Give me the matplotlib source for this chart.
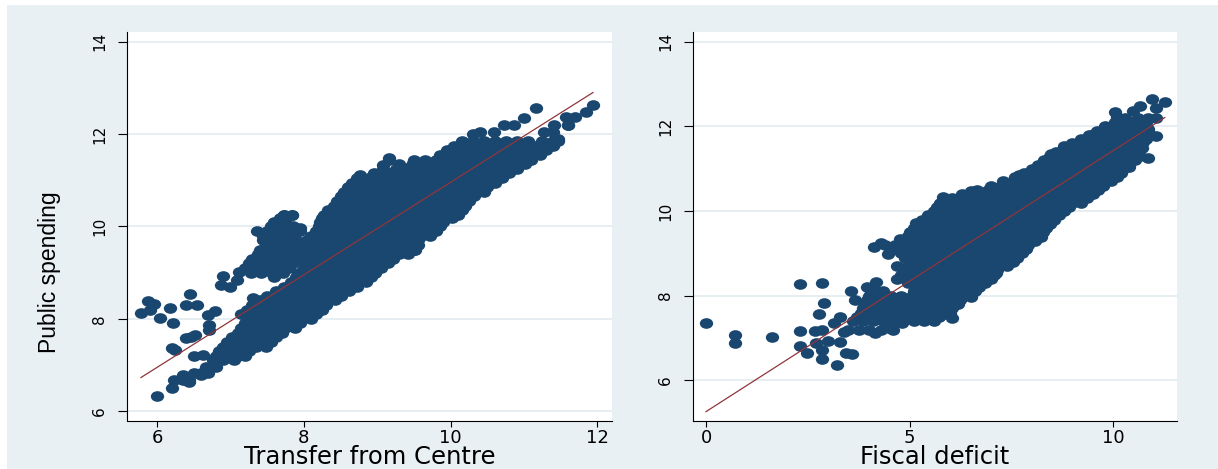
import numpy as np
import matplotlib
matplotlib.use("Agg")
import matplotlib.pyplot as plt
from matplotlib.path import Path
from matplotlib.patches import Rectangle
from matplotlib import font_manager

# ---- data ----
# left panel: dense part of the cloud, one row per spending level (y, [transfer values])
left_rows = [
    (6.50, [6.21]),
    (6.68, [6.23, 6.36, 6.44]),
    (6.82, [6.50, 6.60, 6.70]),
    (6.95, [6.66, 6.80]),
    (7.10, [6.76, 6.90, 7.05]),
    (7.20, [6.80, 6.95, 7.10, 7.20]),
    (7.30, [6.85, 7.00, 7.15, 7.25]),
    (7.40, [6.90, 7.05, 7.20, 7.35, 7.48]),
    (7.50, [6.95, 7.10, 7.25, 7.40, 7.55]),
    (7.60, [7.02, 7.17, 7.32, 7.47, 7.62]),
    (7.70, [7.10, 7.25, 7.40, 7.55, 7.70]),
    (7.80, [7.15, 7.30, 7.45, 7.60, 7.75, 7.88]),
    (7.90, [7.20, 7.35, 7.50, 7.65, 7.80, 7.95]),
    (8.00, [7.22, 7.37, 7.52, 7.67, 7.82, 7.97, 8.10]),
    (8.10, [7.14, 7.30, 7.45, 7.60, 7.75, 7.90, 8.05, 8.16]),
    (8.20, [7.22, 7.37, 7.52, 7.67, 7.82, 7.97, 8.12, 8.25]),
    (8.30, [7.30, 7.45, 7.60, 7.75, 7.90, 8.05, 8.20, 8.30]),
    (8.40, [7.40, 7.55, 7.70, 7.85, 8.00, 8.15, 8.30, 8.42]),
    (8.50, [7.50, 7.65, 7.80, 7.95, 8.10, 8.25, 8.40, 8.50]),
    (8.60, [7.62, 7.77, 7.92, 8.07, 8.22, 8.37, 8.52, 8.62]),
    (8.70, [7.73, 7.88, 8.00, 8.15, 8.30, 8.45, 8.60, 8.72]),
    (8.80, [7.82, 7.97, 8.12, 8.27, 8.42, 8.57, 8.72, 8.85]),
    (8.90, [7.60, 7.90, 8.05, 8.20, 8.35, 8.50, 8.65, 8.80, 8.92]),
    (9.00, [7.28, 7.42, 7.57, 7.72, 7.92, 8.07, 8.22, 8.37, 8.52, 8.67, 8.82, 8.97]),
    (9.10, [7.20, 7.35, 7.50, 7.65, 7.80, 8.00, 8.15, 8.30, 8.45, 8.60, 8.75, 8.90, 9.05]),
    (9.20, [7.25, 7.40, 7.55, 7.70, 7.85, 8.02, 8.17, 8.32, 8.47, 8.62, 8.77, 8.92, 9.07, 9.15]),
    (9.30, [7.30, 7.45, 7.60, 7.75, 7.90, 8.05, 8.20, 8.35, 8.50, 8.65, 8.80, 8.95, 9.10, 9.22]),
    (9.40, [7.37, 7.52, 7.67, 7.82, 7.97, 8.12, 8.27, 8.42, 8.57, 8.72, 8.87, 9.02, 9.17, 9.30, 9.42]),
    (9.50, [7.40, 7.55, 7.70, 7.84, 8.00, 8.15, 8.30, 8.45, 8.60, 8.75, 8.90, 9.05, 9.20, 9.35, 9.50]),
    (9.60, [7.48, 7.62, 7.77, 7.92, 8.07, 8.22, 8.37, 8.52, 8.67, 8.82, 8.97, 9.12, 9.27, 9.42, 9.55]),
    (9.70, [7.44, 7.60, 7.75, 7.90, 8.05, 8.20, 8.35, 8.50, 8.65, 8.80, 8.95, 9.10, 9.25, 9.40, 9.55]),
    (9.80, [7.45, 7.57, 7.72, 7.87, 8.10, 8.25, 8.40, 8.55, 8.70, 8.85, 9.00, 9.15, 9.30, 9.45, 9.60, 9.72]),
    (9.90, [7.36, 7.50, 7.65, 7.80, 7.95, 8.16, 8.30, 8.45, 8.60, 8.75, 8.90, 9.05, 9.20, 9.35, 9.50, 9.65, 9.80]),
    (10.00, [7.55, 7.70, 7.85, 8.20, 8.35, 8.50, 8.65, 8.80, 8.95, 9.10, 9.25, 9.40, 9.55, 9.70, 9.85]),
    (10.10, [7.60, 7.75, 8.22, 8.35, 8.50, 8.65, 8.80, 8.95, 9.10, 9.25, 9.40, 9.57, 9.73, 9.90]),
    (10.18, [7.68, 8.25, 8.40, 8.55, 8.70, 8.85, 9.00, 9.15, 9.30, 9.45, 9.60, 9.75, 9.90, 10.02]),
    (10.25, [7.73, 7.84, 8.27, 8.40, 8.55, 8.70, 8.85, 9.00, 9.15, 9.30, 9.45, 9.60, 9.78, 9.95, 10.10]),
    (10.35, [8.33, 8.48, 8.63, 8.78, 8.93, 9.08, 9.23, 9.38, 9.53, 9.68, 9.85, 10.02, 10.15]),
    (10.45, [8.41, 8.55, 8.70, 8.85, 9.00, 9.15, 9.30, 9.45, 9.60, 9.75, 9.90, 10.05, 10.20]),
    (10.55, [8.45, 8.60, 8.75, 8.90, 9.05, 9.20, 9.35, 9.50, 9.65, 9.80, 9.95, 10.10, 10.25]),
    (10.65, [8.50, 8.65, 8.80, 8.95, 9.10, 9.25, 9.40, 9.55, 9.70, 9.85, 10.00, 10.15, 10.32]),
    (10.75, [8.55, 8.70, 8.85, 9.00, 9.15, 9.30, 9.45, 9.60, 9.75, 9.90, 10.05, 10.20, 10.35, 10.45]),
    (10.85, [8.60, 8.75, 8.90, 9.05, 9.20, 9.35, 9.50, 9.65, 9.80, 9.95, 10.10, 10.25, 10.40, 10.50]),
    (10.95, [8.66, 8.82, 8.97, 9.12, 9.27, 9.42, 9.57, 9.72, 9.87, 10.02, 10.17, 10.32, 10.47, 10.60]),
    (11.05, [8.72, 8.90, 9.05, 9.20, 9.35, 9.50, 9.65, 9.80, 9.95, 10.10, 10.25, 10.40, 10.55, 10.70]),
    (11.15, [8.95, 9.15, 9.32, 9.47, 9.62, 9.77, 9.92, 10.07, 10.22, 10.37, 10.52, 10.67, 10.80]),
    (11.25, [9.08, 9.25, 9.40, 9.55, 9.70, 9.85, 10.00, 10.15, 10.30, 10.45, 10.60, 10.75, 10.90]),
    (11.35, [9.30, 9.57, 9.72, 9.87, 10.02, 10.17, 10.32, 10.47, 10.62, 10.77, 10.92, 11.02]),
    (11.45, [9.16, 9.50, 9.65, 9.80, 9.95, 10.10, 10.25, 10.40, 10.55, 10.70, 10.85, 11.00, 11.10]),
    (11.55, [9.85, 10.02, 10.17, 10.32, 10.47, 10.62, 10.77, 10.95, 11.12, 11.22]),
    (11.65, [9.95, 10.10, 10.25, 10.40, 10.55, 10.70, 10.85, 11.05, 11.20, 11.30]),
    (11.75, [10.05, 10.22, 10.37, 10.52, 10.67, 10.82, 10.97, 11.15, 11.32, 11.40]),
    (11.85, [10.16, 10.30, 10.45, 10.60, 10.75, 10.90, 11.05, 11.25, 11.40, 11.46]),
    (12.05, [10.40, 10.59, 11.27, 11.40]),
    (12.20, [10.73, 10.86, 11.41, 11.60]),
]
# left panel: scattered points around the edges (transfer, spending)
left_pts = [
    (5.78, 8.12), (5.88, 8.39), (5.96, 8.32), (5.90, 8.19), (6.04, 8.01),
    (6.18, 8.23), (6.22, 7.92), (6.45, 8.54), (6.39, 8.30), (6.55, 8.30),
    (6.20, 7.37), (6.25, 7.33), (6.39, 7.58), (6.46, 7.60), (6.52, 7.65),
    (6.50, 7.20), (6.63, 7.22), (6.69, 8.09), (6.79, 8.16), (6.71, 7.87),
    (6.71, 7.76), (6.87, 8.74), (6.90, 8.92), (7.00, 8.70), (7.09, 8.84),
    (7.11, 9.02), (7.28, 9.20), (7.57, 10.00), (7.62, 9.85), (7.73, 10.25),
    (7.84, 10.25), (7.95, 9.96), (7.31, 8.45), (6.00, 6.34), (6.44, 6.64),
    (6.60, 6.79), (6.36, 6.79), (11.16, 12.56), (11.00, 12.35), (11.94, 12.63),
    (11.84, 12.48), (11.70, 12.37), (11.57, 12.37), (11.60, 12.19), (9.16, 11.48),
    (9.08, 11.33), (8.76, 11.11), (8.92, 11.08), (9.49, 11.37), (9.38, 11.26),
    (9.52, 9.49), (9.38, 9.46), (10.30, 12.00), (11.35, 11.78), (11.46, 11.89),
]
left_fit_x = [5.78, 11.94]
left_fit_y = [6.73, 12.90]

# right panel: dense rows (y, [fiscal deficit values])
right_rows = [
    (7.20, [3.50, 3.75, 4.00, 4.30, 4.60]),
    (7.40, [3.60, 3.85, 4.10, 4.35, 4.60, 4.85, 5.10, 5.35, 5.60]),
    (7.50, [3.72, 3.97, 4.22, 4.47, 4.72, 4.97, 5.22, 5.47, 5.72]),
    (7.60, [3.80, 4.05, 4.30, 4.55, 4.80, 5.05, 5.30, 5.55, 5.80, 6.00]),
    (7.70, [3.85, 4.10, 4.35, 4.60, 4.85, 5.10, 5.35, 5.60, 5.85, 6.05]),
    (7.80, [3.90, 4.15, 4.40, 4.65, 4.90, 5.15, 5.40, 5.65, 5.90, 6.20]),
    (7.90, [3.95, 4.22, 4.47, 4.72, 4.97, 5.22, 5.47, 5.72, 5.97, 6.25]),
    (8.00, [4.00, 4.30, 4.55, 4.80, 5.05, 5.30, 5.55, 5.80, 6.05, 6.30, 6.50]),
    (8.10, [4.05, 4.35, 5.12, 5.37, 5.62, 5.87, 6.12, 6.37, 6.60]),
    (8.20, [4.10, 5.20, 5.45, 5.70, 5.95, 6.20, 6.45, 6.70]),
    (8.30, [4.95, 5.12, 5.37, 5.62, 5.87, 6.12, 6.37, 6.62, 6.85]),
    (8.40, [4.70, 5.00, 5.25, 5.50, 5.75, 6.00, 6.25, 6.50, 6.75, 7.00]),
    (8.50, [4.80, 5.07, 5.32, 5.57, 5.82, 6.07, 6.32, 6.57, 6.82, 7.07]),
    (8.60, [4.90, 5.15, 5.40, 5.65, 5.90, 6.15, 6.40, 6.65, 6.90, 7.15]),
    (8.70, [4.95, 5.22, 5.47, 5.72, 5.97, 6.22, 6.47, 6.72, 6.97, 7.22, 7.40]),
    (8.80, [5.00, 5.30, 5.55, 5.80, 6.05, 6.30, 6.55, 6.80, 7.05, 7.30, 7.55]),
    (8.90, [4.90, 5.17, 5.42, 5.67, 5.92, 6.17, 6.42, 6.67, 6.92, 7.17, 7.42, 7.65]),
    (9.00, [4.80, 5.05, 5.30, 5.55, 5.80, 6.05, 6.30, 6.55, 6.80, 7.05, 7.30, 7.55, 7.75]),
    (9.10, [4.60, 4.92, 5.17, 5.42, 5.67, 5.92, 6.17, 6.42, 6.67, 6.92, 7.17, 7.42, 7.67, 7.85]),
    (9.20, [4.40, 4.65, 4.90, 5.15, 5.40, 5.65, 5.90, 6.15, 6.40, 6.65, 6.90, 7.15, 7.40, 7.65, 7.90]),
    (9.30, [4.80, 5.07, 5.32, 5.57, 5.82, 6.07, 6.32, 6.57, 6.82, 7.07, 7.32, 7.57, 7.82, 8.07]),
    (9.40, [4.95, 5.20, 5.45, 5.70, 5.95, 6.20, 6.45, 6.70, 6.95, 7.20, 7.45, 7.70, 7.95, 8.20]),
    (9.50, [5.02, 5.27, 5.52, 5.77, 6.02, 6.27, 6.52, 6.77, 7.02, 7.27, 7.52, 7.77, 8.02, 8.27]),
    (9.60, [5.10, 5.35, 5.60, 5.85, 6.10, 6.35, 6.60, 6.85, 7.10, 7.35, 7.60, 7.85, 8.10, 8.35]),
    (9.70, [5.20, 5.45, 5.70, 5.95, 6.20, 6.45, 6.70, 6.95, 7.20, 7.45, 7.70, 7.95, 8.20, 8.45]),
    (9.80, [5.30, 5.55, 5.80, 6.05, 6.30, 6.55, 6.80, 7.05, 7.30, 7.55, 7.80, 8.05, 8.30, 8.55]),
    (9.90, [5.45, 5.70, 5.95, 6.20, 6.45, 6.70, 6.95, 7.20, 7.45, 7.70, 7.95, 8.20, 8.45, 8.68]),
    (10.00, [5.60, 5.85, 6.10, 6.35, 6.60, 6.85, 7.10, 7.35, 7.60, 7.85, 8.10, 8.35, 8.60, 8.80]),
    (10.10, [5.68, 5.92, 6.17, 6.42, 6.67, 6.92, 7.17, 7.42, 7.67, 7.92, 8.17, 8.42, 8.67, 8.92]),
    (10.20, [5.75, 6.00, 6.25, 6.50, 6.75, 7.00, 7.25, 7.50, 7.75, 8.00, 8.25, 8.50, 8.75, 9.00, 9.20]),
    (10.30, [6.05, 6.37, 6.62, 6.87, 7.12, 7.37, 7.62, 7.87, 8.12, 8.37, 8.62, 8.87, 9.12, 9.35]),
    (10.40, [6.30, 6.55, 6.80, 7.05, 7.30, 7.55, 7.80, 8.05, 8.30, 8.55, 8.80, 9.05, 9.30, 9.50]),
    (10.50, [6.65, 6.92, 7.17, 7.42, 7.67, 7.92, 8.17, 8.42, 8.67, 8.92, 9.17, 9.42, 9.62]),
    (10.60, [7.00, 7.25, 7.50, 7.75, 8.00, 8.25, 8.50, 8.75, 9.00, 9.25, 9.50, 9.75]),
    (10.70, [7.30, 7.55, 7.80, 8.05, 8.30, 8.55, 8.80, 9.05, 9.30, 9.55, 9.80, 9.95]),
    (10.80, [7.60, 7.85, 8.10, 8.35, 8.60, 8.85, 9.10, 9.35, 9.60, 9.85, 10.10]),
    (10.90, [7.80, 8.05, 8.30, 8.55, 8.80, 9.05, 9.30, 9.55, 9.80, 10.05, 10.20]),
    (11.00, [8.00, 8.25, 8.50, 8.75, 9.00, 9.25, 9.50, 9.75, 10.00, 10.25]),
    (11.10, [8.15, 8.40, 8.65, 8.90, 9.15, 9.40, 9.65, 9.90, 10.15, 10.40]),
    (11.20, [8.30, 8.55, 8.80, 9.05, 9.30, 9.55, 9.80, 10.05, 10.30, 10.55]),
    (11.30, [8.45, 8.70, 8.95, 9.20, 9.45, 9.70, 9.95, 10.20, 10.45, 10.65]),
    (11.40, [8.60, 8.85, 9.10, 9.35, 9.60, 9.85, 10.10, 10.35, 10.60]),
    (11.50, [8.80, 9.05, 9.30, 9.55, 9.80, 10.05, 10.30, 10.55, 10.70]),
    (11.60, [9.00, 9.25, 9.50, 9.75, 10.00, 10.25, 10.50, 10.70]),
    (11.70, [9.20, 9.45, 9.70, 9.95, 10.20, 10.45, 10.65, 10.80]),
    (11.80, [9.40, 9.65, 9.90, 10.15, 10.40, 10.65, 10.85]),
    (11.90, [9.60, 9.85, 10.10, 10.35, 10.60, 10.85]),
    (12.00, [9.80, 10.05, 10.30, 10.55, 10.80]),
    (12.10, [10.05, 10.30, 10.55, 10.80]),
    (12.20, [10.30, 10.60, 10.85]),
]
right_pts = [
    (0.00, 7.36), (0.70, 7.07), (0.70, 6.87), (1.61, 7.03), (2.30, 8.27),
    (2.84, 8.31), (2.90, 7.82), (2.78, 7.57), (2.30, 7.17), (2.30, 6.82),
    (2.49, 6.64), (2.84, 6.50), (3.22, 6.35), (3.43, 6.64), (3.29, 6.90),
    (3.00, 6.94), (2.71, 6.87), (2.84, 6.72), (2.68, 7.17), (2.86, 7.19),
    (3.14, 7.35), (3.38, 7.15), (3.58, 6.61), (3.29, 7.50), (3.56, 8.11),
    (3.67, 7.90), (3.96, 8.21), (4.18, 8.33), (4.15, 7.11), (4.12, 9.14),
    (4.31, 9.24), (4.48, 8.98), (4.57, 9.14), (4.77, 9.33), (4.97, 9.33),
    (4.92, 9.12), (4.68, 8.69), (5.16, 9.72), (5.81, 10.34), (6.50, 10.48),
    (6.91, 10.43), (7.70, 10.85), (8.47, 11.34), (8.80, 11.54), (9.52, 11.82),
    (10.05, 12.35), (10.10, 12.23), (10.48, 12.36), (10.67, 12.48), (10.96, 12.65),
    (11.27, 12.57), (11.05, 12.43), (11.05, 12.19), (10.86, 11.95), (11.05, 11.77),
    (10.74, 11.64), (10.86, 11.26), (10.38, 11.05), (10.19, 10.97), (9.76, 10.71),
    (9.28, 10.38), (8.80, 10.14), (8.27, 9.71), (8.22, 9.39), (7.79, 9.08),
    (7.56, 8.92), (7.12, 8.54), (6.79, 8.43), (6.50, 7.98), (6.04, 7.48),
    (5.78, 7.54), (5.49, 7.46), (5.21, 7.50), (4.82, 7.35), (4.49, 7.23),
]
right_fit_x = [0.0, 11.27]
right_fit_y = [5.26, 12.21]


def unpack(rows, pts):
    xs, ys = [], []
    for yv, row in rows:
        xs += row
        ys += [yv] * len(row)
    for a, b in pts:
        xs.append(a)
        ys.append(b)
    return xs, ys


navy = "#1a476f"
maroon = "#90353b"
bg = "#e8f0f3"
gridc = "#e4edf0"

# narrow font for the y title if it is there
names = {f.name for f in font_manager.fontManager.ttflist}
if "Liberation Sans Narrow" in names:
    ytitle_font, ytitle_size = "Liberation Sans Narrow", 19
else:
    ytitle_font, ytitle_size = "Liberation Sans", 16.5

# markers in the picture are slightly wider than tall
circ = Path.unit_circle()
ellipse = Path(circ.vertices * np.array([1.0, 0.8]), circ.codes)

fig = plt.figure(figsize=(12.18, 4.69), dpi=100, facecolor="white")
fig.patches.append(Rectangle((7 / 1218, 0), 1 - 7 / 1218, 464 / 469,
                             transform=fig.transFigure, facecolor=bg,
                             edgecolor="none", zorder=-10))

ax1 = fig.add_axes([127 / 1218, 48.5 / 469, 485 / 1218, 388 / 469])
ax2 = fig.add_axes([693 / 1218, 48.5 / 469, 484 / 1218, 388 / 469])

lx, ly = unpack(left_rows, left_pts)
rx, ry = unpack(right_rows, right_pts)

ax1.scatter(lx, ly, s=92, marker=ellipse, color=navy, linewidths=0, zorder=2)
ax1.plot(left_fit_x, left_fit_y, color=maroon, lw=0.9, zorder=3)
ax2.scatter(rx, ry, s=92, marker=ellipse, color=navy, linewidths=0, zorder=2)
ax2.plot(right_fit_x, right_fit_y, color=maroon, lw=0.9, zorder=3)

ax1.set_xlim(5.59, 12.2)
ax1.set_ylim(5.8, 14.2)
ax1.set_xticks([6, 8, 10, 12])
ax2.set_xlim(-0.32, 11.57)
ax2.set_ylim(5.05, 14.22)
ax2.set_xticks([0, 5, 10])

for ax in (ax1, ax2):
    ax.set_facecolor("white")
    ax.set_yticks([6, 8, 10, 12, 14])
    ax.grid(axis="y", color=gridc, lw=1.3, zorder=0)
    ax.set_axisbelow(True)
    for s in ("top", "right"):
        ax.spines[s].set_visible(False)
    for s in ("left", "bottom"):
        ax.spines[s].set_color("black")
        ax.spines[s].set_linewidth(0.8)
    ax.tick_params(axis="y", length=6.5, width=0.8, pad=8, labelsize=11,
                   labelrotation=90)
    ax.tick_params(axis="x", length=4, width=0.8, pad=2, labelsize=13)
    for lab in ax.get_yticklabels():
        lab.set_verticalalignment("center")

ax1.set_xlabel("Transfer from Centre", fontsize=17.5, labelpad=-1)
ax2.set_xlabel("Fiscal deficit", fontsize=17.5, labelpad=-1)
fig.text(50 / 1218, 1 - 272 / 469, "Public spending", rotation=90,
         ha="center", va="center", fontsize=ytitle_size, family=ytitle_font)

fig.savefig("out.png", dpi=100, facecolor=fig.get_facecolor())
